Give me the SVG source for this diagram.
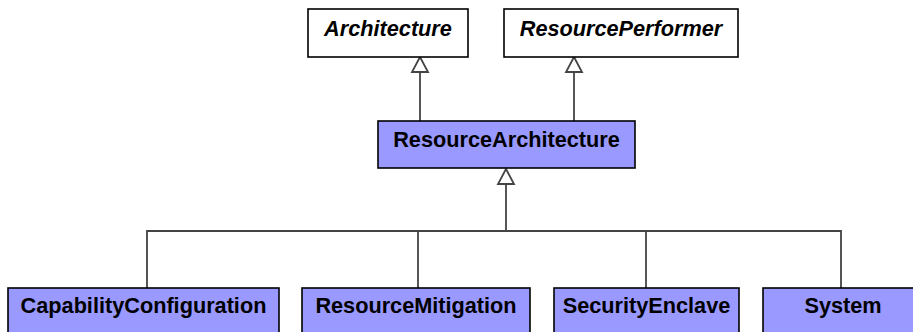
<svg xmlns="http://www.w3.org/2000/svg" width="913" height="332" viewBox="0 0 913 332">
<defs>
<style>
.box{stroke:#000;stroke-width:1.6}
.abs{fill:#fff}
.con{fill:#9999ff}
.lbl{font-family:"Liberation Sans",Arial,sans-serif;font-weight:bold;font-size:21.7px;fill:#000;text-anchor:middle}
.it{font-style:italic}
.ln{fill:none;stroke:#444;stroke-width:1.8}
.hd{fill:#fff;stroke:#444;stroke-width:1.8}
</style>
</defs>
<rect width="913" height="332" fill="#fff"/>
<g id="connectors">
<path class="ln" d="M420,121 V72"/>
<path class="hd" d="M420,57 L412,72 H428 Z"/>
<path class="ln" d="M574,121 V72"/>
<path class="hd" d="M574,57 L566,72 H582 Z"/>
<path class="ln" d="M506,231 V184"/>
<path class="hd" d="M506,169 L498,184 H514 Z"/>
<path class="ln" d="M147,288 V231 H841 V288"/>
<path class="ln" d="M418,231 V288"/>
<path class="ln" d="M646,231 V288"/>
</g>
<g id="Architecture">
<rect class="box abs" x="308" y="9" width="160" height="48"/>
<text class="lbl it" x="388" y="36">Architecture</text>
</g>
<g id="ResourcePerformer">
<rect class="box abs" x="504" y="9" width="234" height="48"/>
<text class="lbl it" x="621" y="36">ResourcePerformer</text>
</g>
<g id="ResourceArchitecture">
<rect class="box con" x="378" y="121" width="257" height="47"/>
<text class="lbl" x="506.5" y="147">ResourceArchitecture</text>
</g>
<g id="CapabilityConfiguration">
<rect class="box con" x="8" y="288" width="271" height="50"/>
<text class="lbl" x="143.5" y="313">CapabilityConfiguration</text>
</g>
<g id="ResourceMitigation">
<rect class="box con" x="302" y="288" width="228" height="50"/>
<text class="lbl" x="416" y="313">ResourceMitigation</text>
</g>
<g id="SecurityEnclave">
<rect class="box con" x="554" y="288" width="185" height="50"/>
<text class="lbl" x="646.5" y="313">SecurityEnclave</text>
</g>
<g id="System">
<rect class="box con" x="763" y="288" width="157" height="50"/>
<text class="lbl" x="843" y="313">System</text>
</g>
</svg>
